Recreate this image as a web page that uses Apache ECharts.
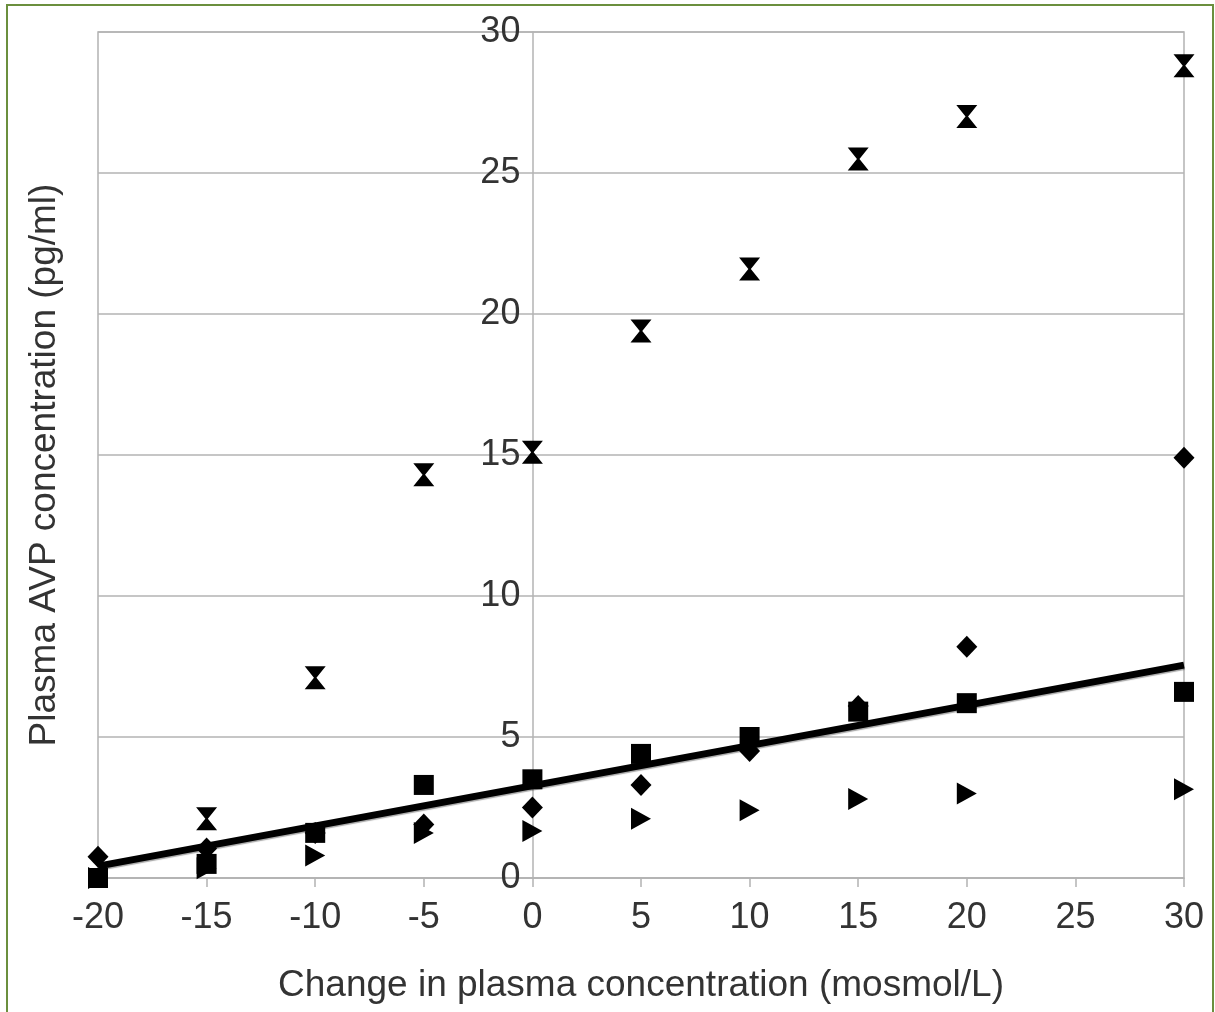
<!DOCTYPE html>
<html>
<head>
<meta charset="utf-8">
<script src="https://cdn.jsdelivr.net/npm/echarts@6/dist/echarts.min.js"></script>
<style>
  html, body { margin: 0; padding: 0; background: #fff; }
  #chart { width: 1215px; height: 1012px; }
</style>
</head>
<body>
<div id="chart"></div>
<script>
// Change in plasma osmolality (mosmol/L)
const osmChange = [-20, -15, -10, -5, 0, 5, 10, 15, 20, 30];

// Plasma AVP (pg/ml) for each group
const hourglassSeries = [null, 2.1, 7.1, 14.3, 15.1, 19.4, 21.6, 25.5, 27.0, 28.8];
const diamondSeries   = [0.75, 1.05, 1.6, 1.9, 2.5, 3.3, 4.5, 6.1, 8.2, 14.9];
const squareSeries    = [0.0, 0.5, 1.6, 3.3, 3.5, 4.4, 5.0, 5.9, 6.2, 6.6];
const triangleSeries  = [0.0, 0.35, 0.8, 1.6, 1.67, 2.1, 2.4, 2.8, 3.0, 3.15];

// Linear trend line end points
const trendX = [-20, 30];
const trendY = [0.42, 7.55];

const xTicks = [-20, -15, -10, -5, 0, 5, 10, 15, 20, 25, 30];
const yTicks = [0, 5, 10, 15, 20, 25, 30];

const pair = (xs, ys) => xs.map((x, i) => [x, ys[i]]).filter(p => p[1] !== null);

const FONT = '"Liberation Sans", Arial, sans-serif';
const TEXT = '#333333';
const GRID = '#b3b3b3';

const GRID_LEFT = 98, GRID_RIGHT = 31;
const CHART_W = 1215;
const plotW = CHART_W - GRID_LEFT - GRID_RIGHT;
const xMin = xTicks[0], xMax = xTicks[xTicks.length - 1];
// The value axis is drawn where x = 0, so shift it inward from the left edge
const yAxisShift = plotW * (0 - xMin) / (xMax - xMin);

const markerStyle = { color: '#000000', opacity: 1 };

const chart = echarts.init(document.getElementById('chart'), null, { renderer: 'canvas' });

chart.setOption({
  animation: false,
  backgroundColor: '#ffffff',
  grid: {
    left: GRID_LEFT, right: GRID_RIGHT, top: 32, bottom: 134,
    show: true, borderColor: GRID, borderWidth: 1.5, backgroundColor: 'transparent'
  },
  xAxis: {
    type: 'value',
    min: xMin, max: xMax, interval: 5,
    axisLine: { show: true, onZero: false, lineStyle: { color: GRID, width: 1.5 } },
    axisTick: { show: true, length: 9, inside: false, lineStyle: { color: GRID, width: 1.5 } },
    axisLabel: { color: TEXT, fontFamily: FONT, fontSize: 36, margin: 22 },
    splitLine: { show: false },
    name: 'Change in plasma concentration (mosmol/L)',
    nameLocation: 'middle',
    nameGap: 89,
    nameTextStyle: { color: TEXT, fontFamily: FONT, fontSize: 37 }
  },
  yAxis: {
    type: 'value',
    position: 'left',
    offset: -yAxisShift,
    min: yTicks[0], max: yTicks[yTicks.length - 1], interval: 5,
    axisLine: { show: true, onZero: false, lineStyle: { color: GRID, width: 1.5 } },
    axisTick: { show: false },
    axisLabel: { color: TEXT, fontFamily: FONT, fontSize: 36, margin: 12 },
    splitLine: { show: true, lineStyle: { color: GRID, width: 1.5 } }
  },
  graphic: [
    {
      type: 'rect',
      shape: { x: 7, y: 5, width: 1206, height: 1012 },
      style: { fill: 'none', stroke: '#6b8f3e', lineWidth: 2 },
      silent: true, z: -10
    },
    {
      type: 'text',
      x: 45, y: 465,
      rotation: Math.PI / 2,
      style: {
        text: 'Plasma AVP concentration (pg/ml)',
        fill: TEXT, font: '37px ' + FONT,
        align: 'center', verticalAlign: 'middle'
      },
      silent: true
    }
  ],
  series: [
    {
      type: 'scatter', name: 'triangle',
      data: pair(osmChange, triangleSeries),
      symbol: 'path://M0,0 L10,5 L0,10 Z',
      symbolSize: [20, 22],
      itemStyle: markerStyle, z: 3
    },
    {
      type: 'scatter', name: 'square',
      data: pair(osmChange, squareSeries),
      symbol: 'rect',
      symbolSize: 20,
      itemStyle: markerStyle, z: 3
    },
    {
      type: 'scatter', name: 'diamond',
      data: pair(osmChange, diamondSeries),
      symbol: 'diamond',
      symbolSize: [21, 22],
      itemStyle: markerStyle, z: 3
    },
    {
      type: 'scatter', name: 'hourglass',
      data: pair(osmChange, hourglassSeries),
      symbol: 'path://M0,0 L10,0 L5.6,5 L10,10 L0,10 L4.4,5 Z',
      symbolSize: [21, 23],
      itemStyle: markerStyle, z: 3
    },
    {
      type: 'line', name: 'trend',
      data: pair(trendX, trendY),
      symbol: 'none',
      lineStyle: { color: '#000000', width: 7, shadowColor: 'rgba(0,0,0,0.35)', shadowOffsetY: 1.5, shadowBlur: 1 },
      z: 4
    }
  ]
});
</script>
</body>
</html>
